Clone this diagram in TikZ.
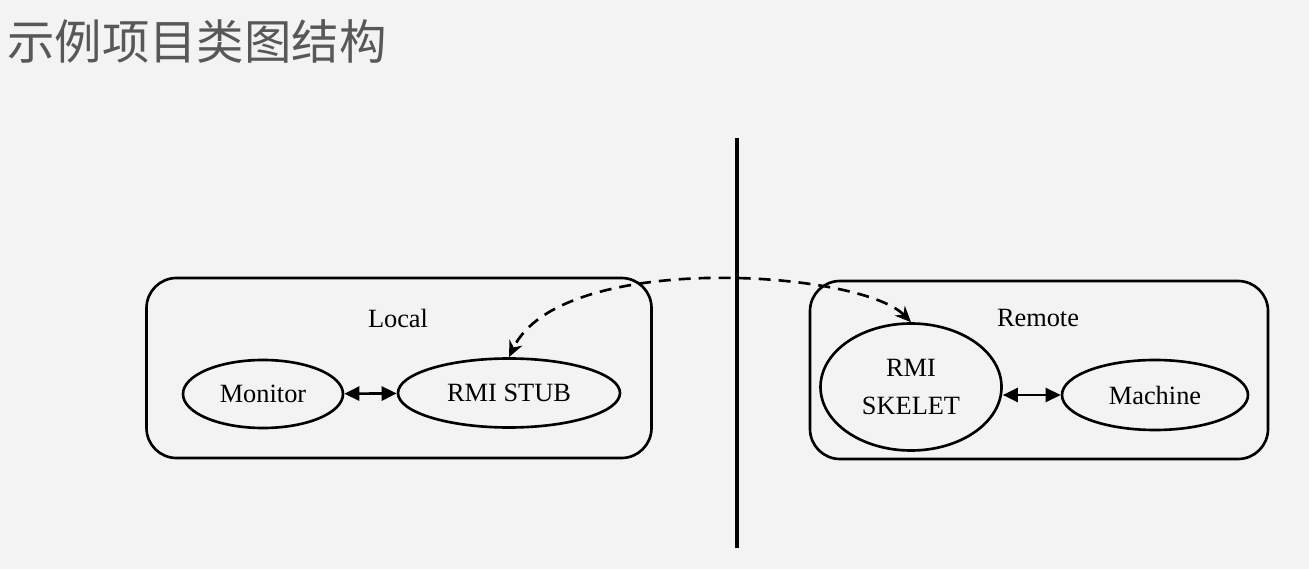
\documentclass[tikz,border=0pt]{standalone}
\usepackage{fontspec}
\setmainfont{Liberation Serif}
\newfontfamily\cjk{Noto Sans CJK SC}
\usepackage{xcolor}
\usepackage{tikz}
\usetikzlibrary{positioning, arrows.meta, shapes.geometric}

\definecolor{pagebg}{RGB}{243,243,243}
\definecolor{titlegray}{RGB}{88,88,88}

\begin{document}
\begin{tikzpicture}
            % Define styles for the boxes and the classes
            \tikzstyle{sidebox} = [draw, rectangle, rounded corners=0.6cm, line width=1.5pt]
            \tikzstyle{classnode} = [draw, ellipse, line width=1.5pt, inner sep=0pt, align=center, font=\fontsize{15}{21.5}\selectfont]
            \tikzstyle{sidelabel} = [font=\fontsize{15}{18}\selectfont]
            \tikzstyle{link} = [line width=1.5pt, {Triangle[length=0.3cm,width=0.28cm]}-{Triangle[length=0.3cm,width=0.28cm]}]

            % Background and page size
            \fill [pagebg] (0,0) rectangle (26.18,-11.38);
            \useasboundingbox (0,0) rectangle (26.18,-11.38);

            % Title
            \node [anchor=west, text=titlegray, font=\cjk\fontsize{27}{30}\selectfont] (title) at (0.02,-0.82) {示例项目类图结构};

            % Dividing line
            \coordinate (divtop) at (14.74,-2.76);
            \coordinate (divbottom) at (14.74,-10.96);
            \draw [line width=1.8pt] (divtop) -- (divbottom);

            % Boxes for the two sides
            \node [sidebox, minimum width=10.1cm, minimum height=3.6cm] (local) at (7.98,-7.36) {};
            \node [sidebox, minimum width=9.16cm, minimum height=3.56cm] (remote) at (20.78,-7.4) {};

            % Labels inside the boxes
            \node [sidelabel] (locallabel) at (7.96,-6.36) {Local};
            \node [sidelabel] (remotelabel) at (20.76,-6.36) {Remote};

            % Nodes for classes
            \node [classnode, minimum width=3.2cm, minimum height=1.36cm] (monitor) at (5.26,-7.88) {Monitor};
            \node [classnode, minimum width=4.44cm, minimum height=1.38cm] (stub) at (10.18,-7.86) {RMI STUB};
            \node [classnode, minimum width=3.62cm, minimum height=2.54cm] (skelet) at (18.22,-7.74) {RMI\\SKELET};
            \node [classnode, minimum width=3.72cm, minimum height=1.4cm] (machine) at (23.1,-7.9) {Machine};

            % Arrows between the classes
            \draw [link] (monitor) -- (stub);
            \draw [link] (skelet.east |- machine) -- (machine);

            % Remote call across the line
            \draw [line width=1.5pt, dash pattern=on 0.24cm off 0.16cm, {Stealth[length=0.32cm,width=0.28cm]}-{Stealth[length=0.32cm,width=0.28cm]}]
                (skelet.north) .. controls (17.2,-5.4) and (11.2,-5.0) .. (stub.north);
        \end{tikzpicture}
\end{document}
